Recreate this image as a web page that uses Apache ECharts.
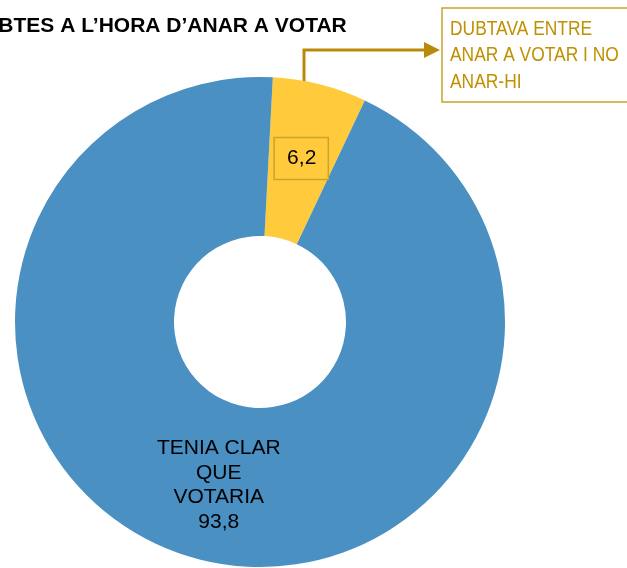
<!DOCTYPE html>
<html lang="ca">
<head>
    <meta charset="UTF-8">
    <title>Dubtes a l'hora d'anar a votar</title>
    <script src="https://cdn.jsdelivr.net/npm/echarts@6/dist/echarts.min.js"></script>
</head>
<body style="margin:0">
    <div id="box" style="width: 627px; height: 568px; background-color: white;"></div>
    <script>
        // dades
        var categories = ['DUBTAVA ENTRE\nANAR A VOTAR I NO\nANAR-HI', 'TENIA CLAR\nQUE\nVOTARIA'];
        var values = [6.2, 93.8];
        var colors = ['#ffcb3c', '#4a90c2'];
        var titleText = 'DUBTES A L\u2019HORA D\u2019ANAR A VOTAR';

        var gold = '#bf9000';
        var goldLine = '#c9a42e';

        var myChart = echarts.init(document.getElementById('box'));

        function fmt(v) {
            return String(v).replace('.', ',');
        }

        var option = {
            animation: false,
            graphic: [
                {   // titol (tallat a l'esquerra com l'original)
                    type: 'text',
                    x: -32,
                    y: 16,
                    style: {
                        text: titleText,
                        font: 'bold 21px "Liberation Sans", Arial, sans-serif',
                        fill: '#000'
                    }
                },
                {   // linia guia
                    type: 'polyline',
                    shape: { points: [[304, 140], [304, 50], [426, 50]] },
                    style: { stroke: '#b8890b', lineWidth: 3, fill: null }
                },
                {
                    type: 'polygon',
                    shape: { points: [[424, 42], [440, 50], [424, 58]] },
                    style: { fill: '#b8890b' }
                },
                {   // caixa de la categoria
                    type: 'rect',
                    shape: { x: 442, y: 8, width: 200, height: 94 },
                    style: { fill: '#fff', stroke: goldLine, lineWidth: 1.5 }
                },
                {
                    type: 'text',
                    x: 450,
                    y: 16,
                    scaleX: 0.87,
                    style: {
                        text: categories[0],
                        font: '20px "Liberation Sans", Arial, sans-serif',
                        lineHeight: 26.5,
                        fill: gold
                    }
                }
            ],
            series: [
                {
                    type: 'pie',
                    center: [260, 322],
                    radius: [86, 245],
                    startAngle: 87,
                    clockwise: true,
                    silent: true,
                    label: {
                        show: true,
                        position: 'inside',
                        color: '#000',
                        fontFamily: '"Liberation Sans", Arial, sans-serif',
                        fontSize: 21,
                        lineHeight: 24.5
                    },
                    labelLine: { show: false },
                    data: [
                        {
                            name: categories[0],
                            value: values[0],
                            itemStyle: { color: colors[0] },
                            label: {
                                formatter: function (p) { return fmt(p.value); },
                                borderColor: goldLine,
                                borderWidth: 1.5,
                                padding: [10, 12, 10, 13],
                                lineHeight: 22
                            }
                        },
                        {
                            name: categories[1],
                            value: values[1],
                            itemStyle: { color: colors[1] },
                            label: {
                                formatter: function (p) { return p.name + '\n' + fmt(p.value); },
                                align: 'center'
                            }
                        }
                    ]
                }
            ]
        };
        myChart.setOption(option);
    </script>
</body>
</html>
